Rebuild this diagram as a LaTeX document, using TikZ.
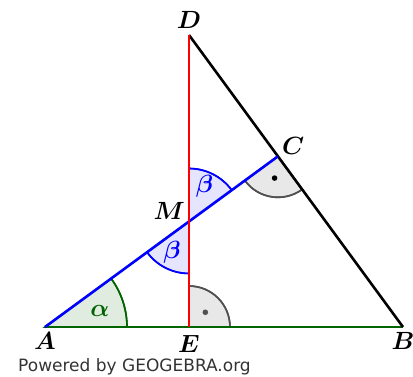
\documentclass[tikz,border=0pt]{standalone}
\usepackage{amsmath}
\usepackage{fontspec}
\newfontfamily\ggbfont{DejaVu Sans}
\usetikzlibrary{calc, positioning}
\usepackage{xcolor}
\definecolor{ggbgreen}{RGB}{0,100,0}
\definecolor{ggbgray}{RGB}{80,80,80}

\begin{document}
\begin{tikzpicture}[
	x=1pt, y=1pt,
	seg/.style={line width=2.6pt},
	anglefill/.style={line width=1.6pt},
	rightangle/.style={anglefill, draw=ggbgray, fill=gray!18},
	betaangle/.style={anglefill, draw=blue, fill=blue!10},
	alphaangle/.style={anglefill, draw=ggbgreen, fill=ggbgreen!12},
	pointlabel/.style={font=\fontsize{23}{25}\selectfont, inner sep=1pt},
	anglelabel/.style={font=\fontsize{24}{26}\selectfont, inner sep=0pt}
	]
	\useasboundingbox (0,0) rectangle (413,376);
	\pgfmathsetmacro{\alp}{90-atan(292/214)}
	% points
	\coordinate (A) at (45,49);
	\coordinate (B) at (403,49);
	\coordinate (E) at (189,49);
	\coordinate (D) at (189,341);
	\coordinate (C) at ($(B)!(A)!(D)$);
	\coordinate (M) at (intersection of A--C and E--D);
	% angles
	\fill[alphaangle] (A) -- ++(0:82) arc[start angle=0, end angle=\alp, radius=82] -- cycle;
	\draw[alphaangle, fill=none] ($(A)+(0:82)$) arc[start angle=0, end angle=\alp, radius=82];
	\fill[rightangle] (E) -- ++(0:41) arc[start angle=0, end angle=90, radius=41] -- cycle;
	\draw[rightangle, fill=none] ($(E)+(0:41)$) arc[start angle=0, end angle=90, radius=41];
	\fill[ggbgray] ($(E)+(42:22)$) circle (2.8);
	\fill[rightangle] (C) -- ++(180+\alp:41) arc[start angle=180+\alp, end angle=270+\alp, radius=41] -- cycle;
	\draw[rightangle, fill=none] ($(C)+(180+\alp:41)$) arc[start angle=180+\alp, end angle=270+\alp, radius=41];
	\fill[black] ($(C)+(225+\alp:22)$) circle (2.8);
	\fill[betaangle] (M) -- ++(\alp:53) arc[start angle=\alp, end angle=90, radius=53] -- cycle;
	\draw[betaangle, fill=none] ($(M)+(\alp:53)$) arc[start angle=\alp, end angle=90, radius=53];
	\fill[betaangle] (M) -- ++(180+\alp:52) arc[start angle=180+\alp, end angle=270, radius=52] -- cycle;
	\draw[betaangle, fill=none] ($(M)+(180+\alp:52)$) arc[start angle=180+\alp, end angle=270, radius=52];
	% segments
	\draw[seg, ggbgreen] (A) -- (B);
	\draw[seg, black] (D) -- (B);
	\draw[seg, blue] (A) -- (C);
	\draw[seg, red] (E) -- (D);
	% labels
	\node[pointlabel, below=4pt of A] (lA) {$\boldsymbol{A}$};
	\node[pointlabel, below=4pt of B] (lB) {$\boldsymbol{B}$};
	\node[pointlabel, below=7pt of E] (lE) {$\boldsymbol{E}$};
	\node[pointlabel, above=5pt of D] (lD) {$\boldsymbol{D}$};
	\node[pointlabel, above right=1pt and 3pt of C] (lC) {$\boldsymbol{C}$};
	\node[pointlabel, above left=1pt and 3pt of M] (lM) {$\boldsymbol{M}$};
	\node[anglelabel, text=ggbgreen] (alpha) at ($(A)+(16:57)$) {$\boldsymbol{\alpha}$};
	\node[anglelabel, text=blue] (beta1) at ($(M)+(66:38)$) {$\boldsymbol{\beta}$};
	\node[anglelabel, text=blue] (beta2) at ($(M)+(241:35)$) {$\boldsymbol{\beta}$};
	\node[anchor=base west, inner sep=0pt, text=black!80, font=\ggbfont\fontsize{17}{19}\selectfont] (ggb) at (18,4.5) {Powered by GEOGEBRA.org};
\end{tikzpicture}
\end{document}
